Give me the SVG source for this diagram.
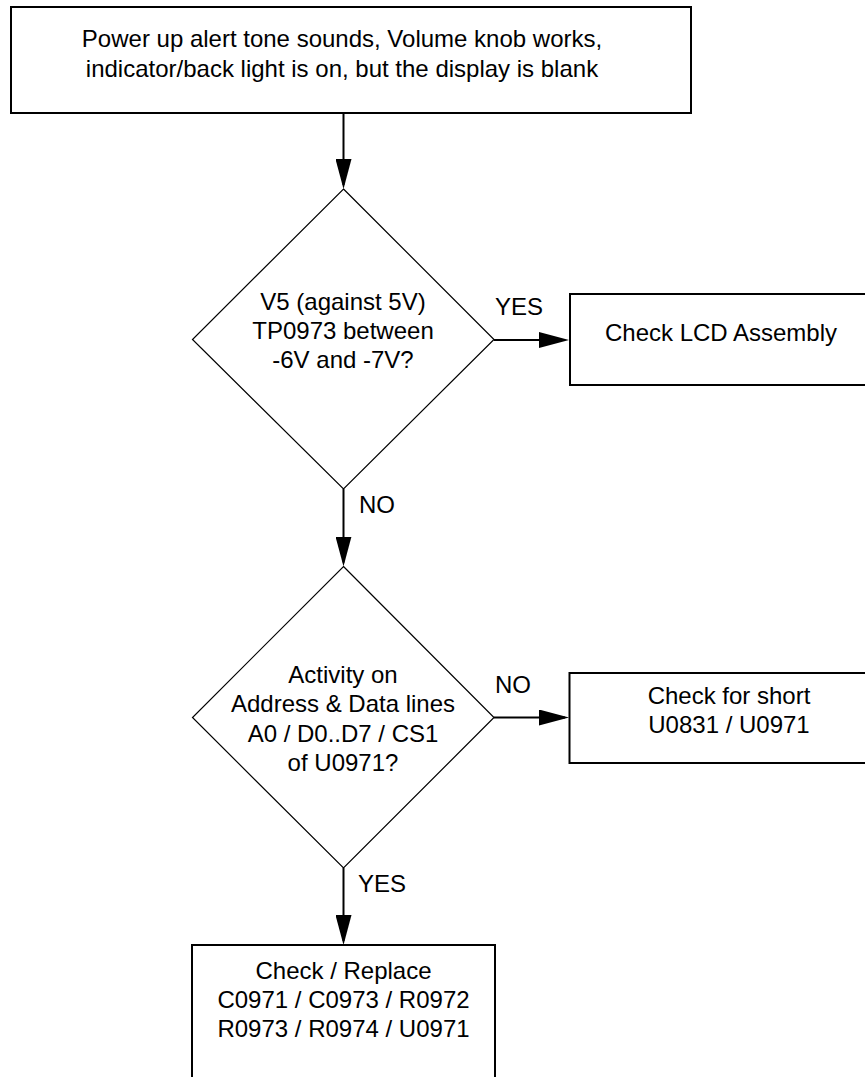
<svg xmlns="http://www.w3.org/2000/svg" width="865" height="1077" viewBox="0 0 865 1077">
<style>
.box{fill:#fff;stroke:#000;stroke-width:2}
.dia{fill:#fff;stroke:#000;stroke-width:1.2}
.t{font-family:"Liberation Sans",Arial,sans-serif;font-size:24px;fill:#000;text-anchor:middle}
.lbl{font-family:"Liberation Sans",Arial,sans-serif;font-size:24px;fill:#000;text-anchor:start}
.con{fill:none;stroke:#000;stroke-width:2;marker-end:url(#arr)}
</style>
<defs>
<marker id="arr" markerUnits="userSpaceOnUse" markerWidth="30" markerHeight="16" refX="26" refY="8" orient="auto" viewBox="0 0 30 16">
<path d="M0,0 L30,8 L0,16 Z" fill="#000"/>
</marker>
</defs>
<rect width="865" height="1077" fill="#fff"/>
<g id="connectors">
<line class="con" x1="343.5" y1="113" x2="343.5" y2="185"/>
<line class="con" x1="494" y1="340" x2="565" y2="340"/>
<line class="con" x1="343.5" y1="489" x2="343.5" y2="562.5"/>
<line class="con" x1="494" y1="717.5" x2="565" y2="717.5"/>
<line class="con" x1="343.5" y1="868" x2="343.5" y2="941"/>
<text class="lbl" x="495" y="315">YES</text>
<text class="lbl" x="359" y="513">NO</text>
<text class="lbl" x="495" y="693">NO</text>
<text class="lbl" x="358" y="892">YES</text>
</g>
<g id="start">
<rect class="box" x="11" y="7" width="680" height="106"/>
<text class="t" x="342" y="47">Power up alert tone sounds, Volume knob works,</text>
<text class="t" x="342" y="77">indicator/back light is on, but the display is blank</text>
</g>
<g id="decision1">
<polygon class="dia" points="343.5,189 494,339.5 343.5,489 192.5,339.5"/>
<text class="t" x="343" y="310">V5 (against 5V)</text>
<text class="t" x="343" y="339">TP0973 between</text>
<text class="t" x="343" y="368">-6V and -7V?</text>
</g>
<g id="lcd">
<rect class="box" x="570" y="294" width="300" height="91"/>
<text class="t" x="721" y="341">Check LCD Assembly</text>
</g>
<g id="decision2">
<polygon class="dia" points="343.5,566.5 494,717.5 343.5,868 192.5,717.5"/>
<text class="t" x="343" y="683">Activity on</text>
<text class="t" x="343" y="712">Address &amp; Data lines</text>
<text class="t" x="343" y="741.5">A0 / D0..D7 / CS1</text>
<text class="t" x="343" y="770.5">of U0971?</text>
</g>
<g id="short">
<rect class="box" x="569.5" y="673" width="300" height="90"/>
<text class="t" x="729" y="704">Check for short</text>
<text class="t" x="729" y="733">U0831 / U0971</text>
</g>
<g id="replace">
<rect class="box" x="192" y="945" width="303" height="150"/>
<text class="t" x="343.5" y="979">Check / Replace</text>
<text class="t" x="343.5" y="1008">C0971 / C0973 / R0972</text>
<text class="t" x="343.5" y="1036.5">R0973 / R0974 / U0971</text>
</g>
</svg>
